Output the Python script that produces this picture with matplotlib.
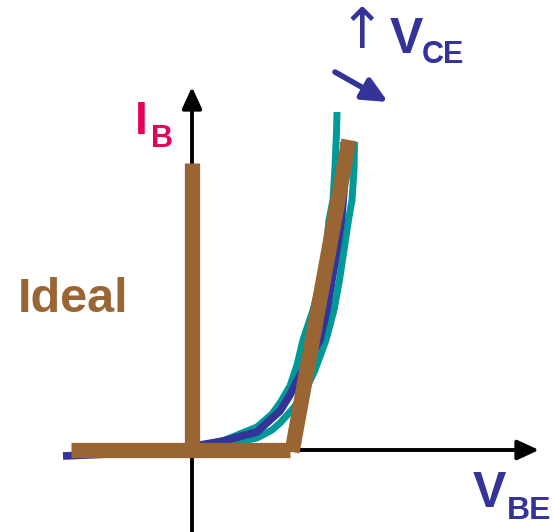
import matplotlib
matplotlib.use("Agg")
import matplotlib.pyplot as plt

# curve data (V_BE right, I_B up, origin at the axes crossing)
navy_v = [-129, -82, -32, 0, 8, 31, 65, 88, 98, 108, 118, 128, 135, 140, 145, 149.5, 152, 153, 152]
navy_i = [-6, -4, -2, 1, 5, 9, 18, 39, 55, 75, 92, 110, 140, 170, 200, 230, 260, 285, 308]

teal_lo_v = [0, 33, 65, 80, 88, 98, 105, 111, 121, 129, 134, 137, 141, 143, 144.5, 145]
teal_lo_i = [1, 10, 23, 36, 47, 64, 85, 110, 140, 170, 200, 230, 250, 283, 317, 338]

teal_hi_v = [0, 31, 65, 80, 88, 98, 108, 116, 123, 134, 142, 147.5, 152, 156.5, 160, 162, 162.5]
teal_hi_i = [1, 5, 12, 20, 27, 38, 50, 65, 80, 110, 140, 170, 200, 230, 250, 280, 308]

# ideal diode model: flat, then a straight rise
ideal_flat_v = [-121, 98]
ideal_flat_i = [0, 0]
ideal_rise_v = [100, 157]
ideal_rise_i = [-2, 310]
ideal_bar_v = [0, 0]
ideal_bar_i = [0, 287]

navy = '#333399'
teal = '#009999'
brown = '#996633'
pink = '#E8005C'

fig = plt.figure(figsize=(5.53, 5.32), dpi=100)
ax = fig.add_axes([0, 0, 1, 1])
ax.set_xlim(-192, 361)
ax.set_ylim(-82, 450)
ax.axis('off')

# axes with arrow heads
arr = dict(arrowstyle='-|>,head_length=1.3,head_width=0.6', color='black', lw=2.8,
           shrinkA=0, shrinkB=0)
ax.annotate('', xy=(0, 363), xytext=(0, -82), arrowprops=arr, zorder=1)
ax.annotate('', xy=(347, 0), xytext=(-100, 0), arrowprops=arr, zorder=1)

line_kw = dict(solid_capstyle='butt', solid_joinstyle='round')
ax.plot(teal_lo_v, teal_lo_i, color=teal, lw=5, zorder=2, **line_kw)
ax.plot(teal_hi_v, teal_hi_i, color=teal, lw=5, zorder=2, **line_kw)
ax.plot(navy_v, navy_i, color=navy, lw=5.5, zorder=3, **line_kw)

ax.plot(ideal_flat_v, ideal_flat_i, color=brown, lw=11, zorder=4, solid_capstyle='butt')
ax.plot(ideal_rise_v, ideal_rise_i, color=brown, lw=11, zorder=4, solid_capstyle='butt')
ax.plot(ideal_bar_v, ideal_bar_i, color=brown, lw=11, zorder=4, solid_capstyle='butt')

font = 'Liberation Sans'
ax.text(-174, 138, 'Ideal', color=brown, fontsize=35, fontweight='bold', family=font)
ax.text(-57, 316, 'I', color=pink, fontsize=33, fontweight='bold', family=font)
ax.text(-41, 303, 'B', color=pink, fontsize=22, fontweight='bold', family=font)
ax.text(281, -57, 'V', color=navy, fontsize=36, fontweight='bold', family=font)
ax.text(315, -69, 'BE', color=navy, fontsize=23, fontweight='bold', family=font)
ax.text(198, 397, 'V', color=navy, fontsize=36, fontweight='bold', family=font)
ax.text(230, 387, 'CE', color=navy, fontsize=22, fontweight='bold', family=font)
ax.text(169.5, 417, '\u2191', color=navy, fontsize=40, ha='center', va='center',
        family='DejaVu Sans')

ax.annotate('', xy=(196, 348), xytext=(143, 378),
            arrowprops=dict(arrowstyle='-|>,head_length=1.5,head_width=0.7', color=navy,
                            lw=4, shrinkA=0, shrinkB=0))

fig.savefig('out.png', dpi=100)
